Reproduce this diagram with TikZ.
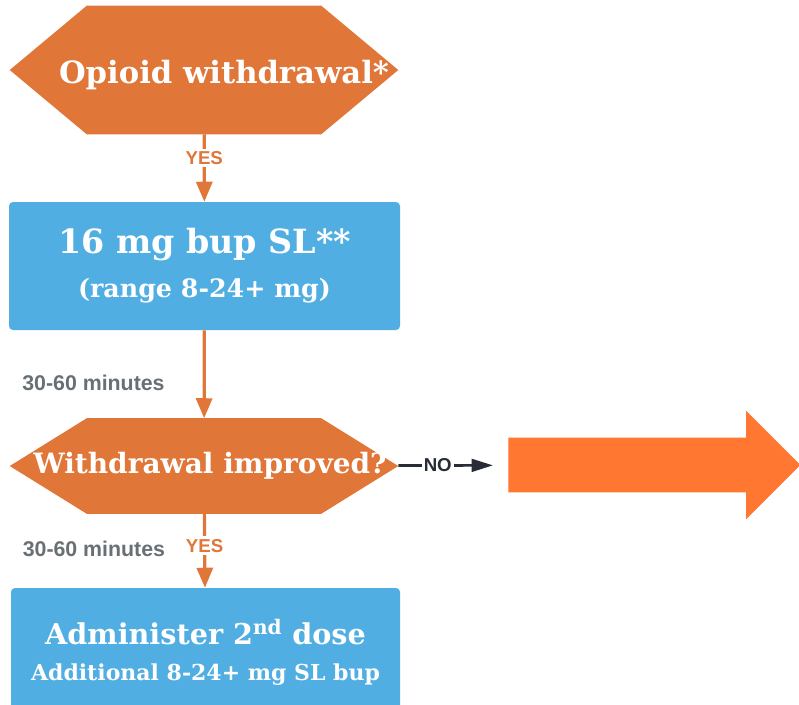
\documentclass[tikz,border=0pt]{standalone}
\usepackage{fontspec}
\setmainfont{DejaVu Serif}
\newfontfamily\labelfont{Liberation Sans}
\usepackage{tikz}
\usetikzlibrary{shapes,arrows,arrows.meta,positioning,backgrounds}
\definecolor{hexorange}{RGB}{224,118,56}
\definecolor{boxblue}{RGB}{80,174,227}
\definecolor{bigorange}{RGB}{255,119,48}
\definecolor{labelgray}{RGB}{104,112,117}
\definecolor{darkline}{RGB}{40,44,54}

\begin{document}
\begin{tikzpicture}[x=0.75pt,y=-0.75pt,  % one unit = one pixel
    hexa/.style={rectangle, text=white, inner sep=0pt,
        font=\bfseries, minimum width=388*0.75pt},
    dosebox/.style={rectangle, rounded corners=3pt, fill=boxblue, text=white,
        font=\bfseries, align=center, inner sep=0pt, minimum height=128*0.75pt},
    flow/.style={draw=hexorange, line width=2.4pt, -{Triangle[width=12pt,length=15pt]}},
    yes/.style={fill=white, text=hexorange, font=\labelfont\bfseries\fontsize{14}{16}\selectfont, inner sep=2pt},
    wait/.style={text=labelgray, font=\labelfont\bfseries\fontsize{16}{18}\selectfont, anchor=east, inner sep=0pt}]
    % Fix the page size
    \useasboundingbox (0,0) rectangle (799,704);
    % Decision and dose boxes
    \node[hexa, minimum height=128*0.75pt, text height=20pt, text depth=0.5pt] (withdrawal) at (204,70)
        {\fontsize{23}{27}\selectfont\hspace*{30pt}Opioid withdrawal*};
    \node[dosebox, minimum width=391*0.75pt] (firstdose) at (204.5,266)
        {{\fontsize{25}{29}\selectfont 16 mg bup SL**}\\[12pt]
         {\fontsize{19}{23}\selectfont (range 8-24+ mg)}};
    \node[hexa, minimum height=95*0.75pt] (improved) at (204,466)
        {\fontsize{21}{25}\selectfont\hspace*{9pt}Withdrawal improved?};
    \node[dosebox, minimum width=389*0.75pt] (seconddose) at (205.5,652)
        {{\fontsize{21.5}{25}\selectfont Administer 2\textsuperscript{nd} dose}\\[13pt]
         {\fontsize{16.5}{20}\selectfont Additional 8-24+ mg SL bup}};
    % Hexagon fills behind the texts
    \begin{pgfonlayer}{background}
        \foreach \n/\d in {withdrawal/77,improved/77} {
            \fill[hexorange] (\n.west) -- ([xshift=\d*0.75pt]\n.north west)
                -- ([xshift=-\d*0.75pt]\n.north east) -- (\n.east)
                -- ([xshift=-\d*0.75pt]\n.south east)
                -- ([xshift=\d*0.75pt]\n.south west) -- cycle;
        }
    \end{pgfonlayer}
    % Next step arrow
    \node[single arrow, fill=bigorange, anchor=west, inner xsep=0pt, inner ysep=27*0.75pt,
        minimum height=292*0.75pt, single arrow head extend=27*0.75pt,
        single arrow tip angle=90] (nextstep) at (508,465) {};
    % Connectors
    \draw[flow] (withdrawal) -- node[yes, pos=0.35] {YES} (firstdose);
    \draw[flow] (firstdose) -- node[wait, pos=0.6, xshift=-38*0.75pt] {30-60 minutes} (improved);
    \draw[flow] (improved) -- node[yes, pos=0.43] {YES}
        node[wait, pos=0.48, xshift=-38*0.75pt] {30-60 minutes} (seconddose);
    \draw[darkline, line width=2pt, -{Triangle[width=9.5pt,length=16pt]}, shorten >=15*0.75pt]
        (improved) -- node[pos=0.36, fill=white, inner sep=1.5pt, font=\labelfont\bfseries\fontsize{14}{16}\selectfont] {NO} (nextstep);
\end{tikzpicture}
\end{document}
